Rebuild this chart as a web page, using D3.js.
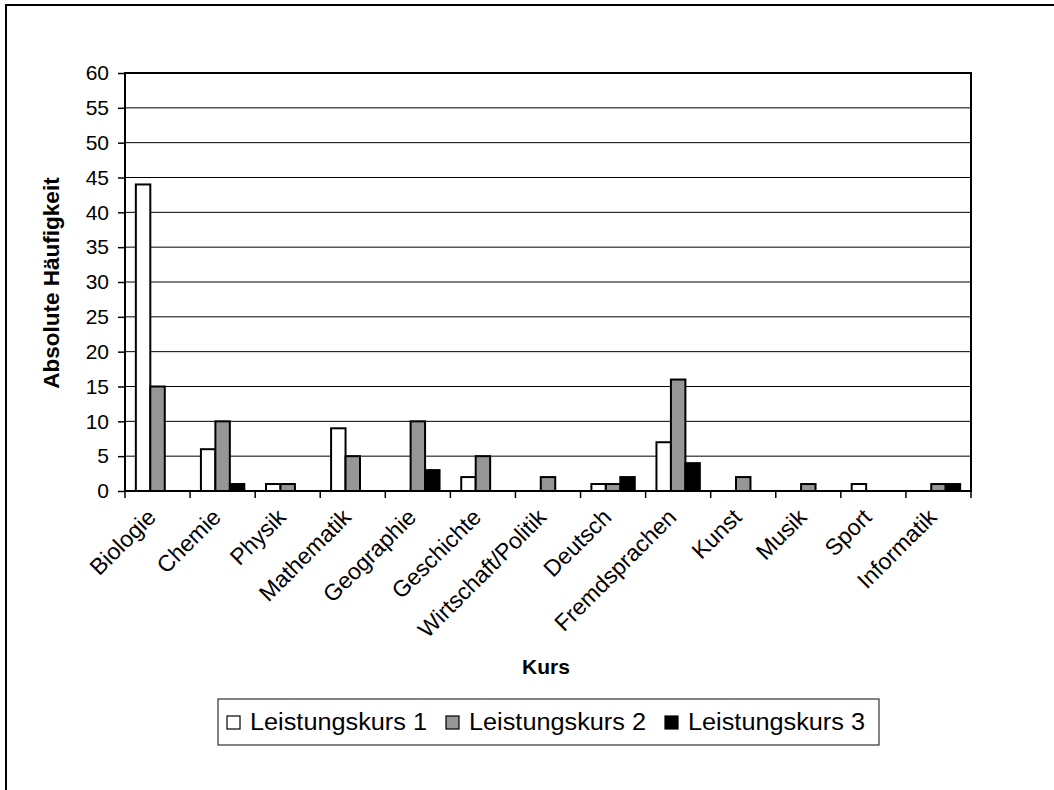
<!DOCTYPE html>
<html><head><meta charset="utf-8">
<script src="https://cdn.jsdelivr.net/npm/d3@7"></script>
<style>
html,body{margin:0;padding:0;background:#fff;overflow:hidden}
text{font-family:"Liberation Sans",Arial,sans-serif;fill:#000}
</style></head>
<body>
<svg id="chart" width="1054" height="790"></svg>
<script>
const categories = ["Biologie","Chemie","Physik","Mathematik","Geographie","Geschichte","Wirtschaft/Politik","Deutsch","Fremdsprachen","Kunst","Musik","Sport","Informatik"];
const seriesNames = ["Leistungskurs 1","Leistungskurs 2","Leistungskurs 3"];
const lk1 = [44,6,1,9,0,2,0,1,7,0,0,1,0];
const lk2 = [15,10,1,5,10,5,2,1,16,2,1,0,1];
const lk3 = [0,1,0,0,3,0,0,2,4,0,0,0,1];
const yTickValues = [0,5,10,15,20,25,30,35,40,45,50,55,60];
const seriesColors = ["#ffffff","#969696","#000000"];
const yTitle = "Absolute Häufigkeit";
const xTitle = "Kurs";

const series = [lk1, lk2, lk3];
const svg = d3.select("#chart");

// outer chart frame (extends beyond viewport)
svg.append("rect").attr("x",6).attr("y",5).attr("width",1200).attr("height",900)
  .attr("fill","#fff").attr("stroke","#000").attr("stroke-width",2);

const L = 125, R = 971, T = 73, B = 491;
const x = d3.scaleBand().domain(categories).range([L, R]).paddingInner(0).paddingOuter(0);
const bw = x.bandwidth();
const xs = d3.scaleBand().domain([0,1,2]).range([bw*0.75/4.5, bw - bw*0.75/4.5]).paddingInner(0);
const y = d3.scaleLinear().domain([0,60]).range([B, T]);

// gridlines
svg.append("g").selectAll("line").data(yTickValues.filter(v=>v>0)).join("line")
  .attr("x1",L).attr("x2",R).attr("y1",d=>y(d)).attr("y2",d=>y(d))
  .attr("stroke","#000").attr("stroke-width",1);

// bars
const g = svg.append("g");
categories.forEach((c,i)=>{
  series.forEach((s,j)=>{
    if (s[i] <= 0) return;
    g.append("rect")
      .attr("x", x(c)+xs(j)).attr("width", xs.bandwidth())
      .attr("y", y(s[i])).attr("height", y(0)-y(s[i]))
      .attr("fill", seriesColors[j]).attr("stroke","#000").attr("stroke-width",2);
  });
});

// plot border
svg.append("rect").attr("x",L).attr("y",T).attr("width",R-L).attr("height",B-T)
  .attr("fill","none").attr("stroke","#000").attr("stroke-width",2);

// y axis
const yAxis = d3.axisLeft(y).tickValues(yTickValues).tickSize(7).tickPadding(9).tickSizeOuter(0);
const ya = svg.append("g").attr("transform",`translate(${L},0)`).call(yAxis);
ya.select(".domain").remove();
ya.selectAll("line").attr("stroke","#000").attr("stroke-width",1.5);
ya.selectAll("text").attr("font-size","21px").attr("font-family","'Liberation Sans',Arial,sans-serif").attr("fill","#000");

// x axis tick marks at category boundaries
const bounds = categories.map(c=>x(c)).concat([R]);
svg.append("g").selectAll("line").data(bounds).join("line")
  .attr("x1",d=>d).attr("x2",d=>d).attr("y1",B).attr("y2",B+7)
  .attr("stroke","#000").attr("stroke-width",1.5);

// x labels
svg.append("g").selectAll("text").data(categories).join("text")
  .attr("transform",d=>`translate(${x(d)+bw/2-6},${B+22}) rotate(-45)`)
  .attr("text-anchor","end").attr("dy","0.35em")
  .attr("font-size","23px").text(d=>d);

// axis titles
svg.append("text").attr("transform",`translate(59,283) rotate(-90)`)
  .attr("text-anchor","middle").attr("font-size","22.5px").attr("font-weight","bold").text(yTitle);
svg.append("text").attr("x",546).attr("y",674)
  .attr("text-anchor","middle").attr("font-size","21px").attr("font-weight","bold").text(xTitle);

// legend
const lg = svg.append("g");
lg.append("rect").attr("x",218).attr("y",699).attr("width",661).attr("height",46)
  .attr("fill","#fff").attr("stroke","#333").attr("stroke-width",1.2);
seriesNames.forEach((n,j)=>{
  const lx = 227 + j*219;
  lg.append("rect").attr("x",lx).attr("y",716).attr("width",13).attr("height",13)
    .attr("fill",seriesColors[j]).attr("stroke","#000").attr("stroke-width",1.2);
  lg.append("text").attr("x",lx+23).attr("y",730).attr("font-size","23px")
    .attr("textLength",177).attr("lengthAdjust","spacingAndGlyphs").text(n);
});
</script>
</body></html>
